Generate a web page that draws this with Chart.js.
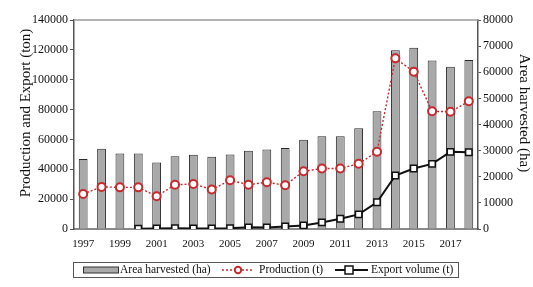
<!DOCTYPE html>
<html>
<head>
<meta charset="utf-8">
<script src="https://cdn.jsdelivr.net/npm/chart.js@4"></script>
<style>
  html, body { margin: 0; padding: 0; background: #fff; }
  #wrap { width: 533px; height: 287px; position: relative; }
</style>
</head>
<body>
<div id="wrap"><canvas id="c"></canvas></div>
<script>
// ── Data ──────────────────────────────────────────────────
const years = ['1997','1998','1999','2000','2001','2002','2003','2004','2005','2006','2007',
               '2008','2009','2010','2011','2012','2013','2014','2015','2016','2017','2018'];
const areaHarvested = [26800, 30700, 28900, 28900, 25500, 27800, 28400, 27700, 28500, 30000, 30400,
                       31000, 34200, 35500, 35500, 38600, 45100, 68400, 69400, 64500, 62100, 64700];
const production    = [23500, 28200, 27900, 27900, 21900, 29600, 30200, 26400, 32600, 29700, 31300,
                       29300, 38700, 40500, 40500, 43700, 51700, 114300, 105400, 78900, 78500, 85600];
const exportVolume  = [null, null, null, 200, 300, 500, 400, 400, 500, 1100, 1000,
                       1700, 2400, 4400, 6900, 9800, 17900, 35800, 40500, 43600, 51700, 51400];
const leftTicks  = { min: 0, max: 140000, step: 20000 };
const rightTicks = { min: 0, max: 80000,  step: 10000 };
const leftTitle  = 'Production and Export (ton)';
const rightTitle = 'Area harvested (ha)';

const SERIF = "'Liberation Serif', 'DejaVu Serif', serif";
const RED = '#c62a2f';
const INK = '#111';

// ── Frame line, axis titles and boxed legend ──────────────
const frameAndLegend = {
  id: 'frameAndLegend',
  afterDraw(chart) {
    const { ctx, chartArea: a } = chart;
    ctx.save();
    ctx.strokeStyle = '#9a9a9a';
    ctx.lineWidth = 1.5;
    ctx.beginPath(); ctx.moveTo(a.left, a.top); ctx.lineTo(a.right, a.top); ctx.stroke();

    // axis titles (sit a little above the axis middle in the original)
    ctx.fillStyle = INK;
    ctx.font = `15px ${SERIF}`;
    ctx.textAlign = 'center'; ctx.textBaseline = 'middle';
    ctx.save(); ctx.translate(26, 113); ctx.rotate(-Math.PI / 2);
    ctx.fillText(leftTitle, 0, 0); ctx.restore();
    ctx.save(); ctx.translate(524, 113); ctx.rotate(Math.PI / 2);
    ctx.fillText(rightTitle, 0, 0); ctx.restore();

    // legend box
    const bx = 73, by = 262, bw = 385, bh = 15, cy = by + bh / 2 + 0.5;
    ctx.strokeStyle = '#555'; ctx.lineWidth = 1;
    ctx.strokeRect(bx + 0.5, by + 0.5, bw, bh);

    ctx.font = `11.5px ${SERIF}`;
    ctx.textAlign = 'left';

    // bar swatch
    ctx.fillStyle = '#a9a9a9';
    ctx.fillRect(83, cy - 3, 35, 6);
    ctx.strokeStyle = '#333';
    ctx.strokeRect(83.5, cy - 3, 35, 6);
    ctx.fillStyle = INK;
    ctx.fillText('Area harvested (ha)', 120, cy);

    // production swatch
    ctx.strokeStyle = RED; ctx.lineWidth = 1.3; ctx.setLineDash([2, 2]);
    ctx.beginPath(); ctx.moveTo(222, cy); ctx.lineTo(254, cy); ctx.stroke();
    ctx.setLineDash([]);
    ctx.fillStyle = '#fff'; ctx.lineWidth = 2;
    ctx.beginPath(); ctx.arc(238, cy, 3.2, 0, Math.PI * 2); ctx.fill(); ctx.stroke();
    ctx.fillStyle = INK;
    ctx.fillText('Production (t)', 259, cy);

    // export swatch
    ctx.strokeStyle = INK; ctx.lineWidth = 1.8;
    ctx.beginPath(); ctx.moveTo(335, cy); ctx.lineTo(368, cy); ctx.stroke();
    ctx.fillStyle = '#fff'; ctx.lineWidth = 1.5;
    ctx.fillRect(345, cy - 4, 8, 8); ctx.strokeRect(345, cy - 4, 8, 8);
    ctx.fillStyle = INK;
    ctx.fillText('Export volume (t)', 371, cy);
    ctx.restore();
  }
};

new Chart(document.getElementById('c'), {
  data: {
    labels: years,
    datasets: [
      {
        type: 'bar', label: 'Area harvested (ha)', data: areaHarvested, yAxisID: 'yR',
        backgroundColor: '#a9a9a9', borderColor: '#2a2a2a', borderWidth: 1,
        barPercentage: 0.48, categoryPercentage: 1, order: 3,
      },
      {
        type: 'line', label: 'Production (t)', data: production, yAxisID: 'yL',
        borderColor: RED, borderWidth: 1.4, borderDash: [2, 2], tension: 0,
        pointStyle: 'circle', pointRadius: 4, pointBackgroundColor: '#fff',
        pointBorderColor: RED, pointBorderWidth: 2, order: 1,
      },
      {
        type: 'line', label: 'Export volume (t)', data: exportVolume, yAxisID: 'yL',
        borderColor: INK, borderWidth: 2, tension: 0,
        pointStyle: 'rect', pointRadius: 4.5, pointBackgroundColor: '#fff',
        pointBorderColor: INK, pointBorderWidth: 1.5, order: 2,
      },
    ]
  },
  options: {
    responsive: true, maintainAspectRatio: false, animation: false,
    layout: { padding: { top: 20, bottom: 32, left: 0, right: 0 } },
    plugins: { legend: { display: false }, tooltip: { enabled: false } },
    scales: {
      x: {
        type: 'category', offset: true,
        grid: { display: false },
        border: { color: '#8a8a8a', width: 2 },
        ticks: {
          autoSkip: false, maxRotation: 0, color: INK, padding: 1,
          font: { family: SERIF, size: 11 },
          callback: (v, i) => (i % 2 === 0 ? years[i] : ''),
        },
        afterFit: s => { s.height = 26; },
      },
      yL: {
        position: 'left', min: leftTicks.min, max: leftTicks.max,
        ticks: { stepSize: leftTicks.step, color: INK, padding: 2,
                 font: { family: SERIF, size: 12 }, callback: v => String(v) },
        grid: { drawOnChartArea: false, tickLength: 4, color: '#555' },
        border: { color: '#555', width: 1.5 },
        afterFit: s => { s.width = 74; },
      },
      yR: {
        position: 'right', min: rightTicks.min, max: rightTicks.max,
        ticks: { stepSize: rightTicks.step, color: INK, padding: 2,
                 font: { family: SERIF, size: 12 }, callback: v => String(v) },
        grid: { drawOnChartArea: false, tickLength: 3, color: '#555' },
        border: { color: '#555', width: 1.5 },
        afterFit: s => { s.width = 55; },
      },
    },
  },
  plugins: [frameAndLegend],
});
</script>
</body>
</html>
